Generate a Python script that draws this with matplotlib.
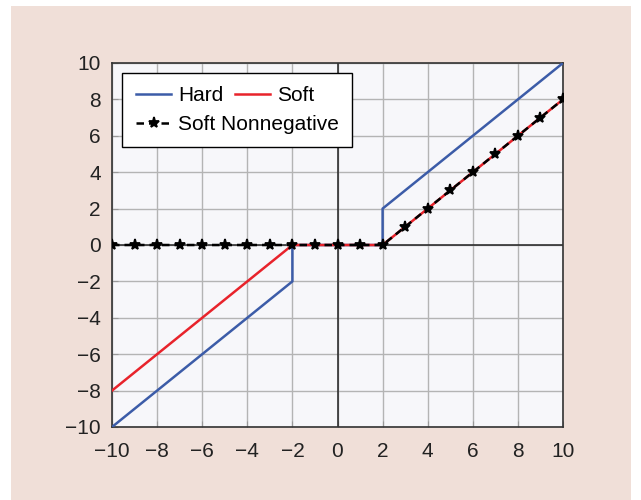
import matplotlib
matplotlib.use("Agg")
import matplotlib.pyplot as plt
from matplotlib.lines import Line2D
from matplotlib.patches import Rectangle

plt.rcParams["font.family"] = ["Liberation Sans", "DejaVu Sans"]

# hard thresholding (lambda = 2)
hard_x = [-10, -2, -2, 2, 2, 10]
hard_y = [-10, -2, 0, 0, 2, 10]

# soft thresholding
soft_x = [-10, -2, 2, 10]
soft_y = [-8, 0, 0, 8]

# soft nonnegative, sampled at integers
nn_x = [-10, -9, -8, -7, -6, -5, -4, -3, -2, -1, 0, 1, 2, 3, 4, 5, 6, 7, 8, 9, 10]
nn_y = [0, 0, 0, 0, 0, 0, 0, 0, 0, 0, 0, 0, 0, 1, 2, 3, 4, 5, 6, 7, 8]

ticks = [-10, -8, -6, -4, -2, 0, 2, 4, 6, 8, 10]

blue = "#3c5ca8"
red = "#e8232b"
pink = "#f0dfd8"
fs = 15

fig = plt.figure(figsize=(6.41, 5), dpi=100, facecolor="white")
fig.add_artist(Rectangle((11 / 641, 0), 620 / 641, 494 / 500,
                         transform=fig.transFigure, facecolor=pink,
                         edgecolor="none", zorder=-10))

ax = fig.add_axes([112 / 641, 73 / 500, 451 / 641, 364 / 500])
ax.set_facecolor("#f7f7fa")

ax.set_xlim(-10, 10)
ax.set_ylim(-10, 10)
ax.set_xticks(ticks)
ax.set_yticks(ticks)
ax.grid(True, color="#b4b4b4", linewidth=1.0)
ax.set_axisbelow(True)
ax.tick_params(direction="in", length=4, color="#999999", labelsize=fs,
               labelcolor="#222222")
ax.tick_params(axis="x", pad=11)
ax.tick_params(axis="y", pad=8)
for s in ax.spines.values():
    s.set_color("#333333")
    s.set_linewidth(1.2)

ax.axhline(0, color="#222222", linewidth=1.1, zorder=1)
ax.axvline(0, color="#222222", linewidth=1.1, zorder=1)

h_hard, = ax.plot(hard_x, hard_y, color=blue, linewidth=1.8, zorder=3)
h_soft, = ax.plot(soft_x, soft_y, color=red, linewidth=1.8, zorder=3)
h_nn, = ax.plot(nn_x, nn_y, color="black", linestyle=(0, (3, 2)), linewidth=1.8,
                marker="*", markersize=8, markeredgewidth=1.3, zorder=4)

# legend: box drawn separately so the two rows can have their own layouts
ax.add_patch(Rectangle((10 / 451, 280 / 364), 230 / 451, 74 / 364,
                       transform=ax.transAxes, facecolor="white",
                       edgecolor="black", linewidth=1.0, zorder=5))
leg_kw = dict(loc="upper left", frameon=False, borderpad=0, borderaxespad=0,
              handlelength=1.7, handletextpad=0.33, fontsize=fs)
leg1 = ax.legend(handles=[h_hard, h_soft], labels=["Hard", "Soft"], ncol=2,
                 columnspacing=0.55, bbox_to_anchor=(24 / 451, 341 / 364), **leg_kw)
leg1.set_zorder(6)
ax.add_artist(leg1)
nn_handle = Line2D([], [], color="black", linestyle=(0, (3, 2)), linewidth=1.8,
                   marker="*", markersize=8, markeredgewidth=1.3)
leg2 = ax.legend(handles=[nn_handle], labels=["Soft Nonnegative"],
                 numpoints=1, bbox_to_anchor=(24 / 451, 312 / 364), **leg_kw)
leg2.set_zorder(6)

fig.savefig("out.png", dpi=100)
